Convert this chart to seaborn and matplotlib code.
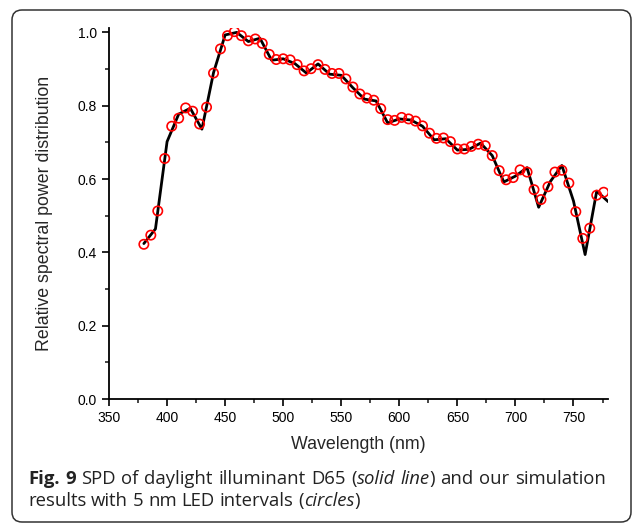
import matplotlib
matplotlib.use("Agg")
import matplotlib.pyplot as plt
from matplotlib.patches import FancyBboxPatch
from matplotlib.ticker import MultipleLocator
import pandas as pd
import seaborn as sns

# D65 reference curve (solid line), 10 nm steps, normalised to 460 nm
line_wl = [380, 390, 400, 410, 420, 430, 440, 450, 460, 470, 480, 490, 500, 510,
           520, 530, 540, 550, 560, 570, 580, 590, 600, 610, 620, 630, 640, 650,
           660, 670, 680, 690, 700, 710, 720, 730, 740, 750, 760, 770, 780]
line_val = [0.424, 0.464, 0.702, 0.777, 0.793, 0.736, 0.890, 0.993, 1.000, 0.975,
            0.984, 0.924, 0.928, 0.915, 0.889, 0.914, 0.886, 0.883, 0.849, 0.818,
            0.813, 0.753, 0.764, 0.761, 0.744, 0.707, 0.710, 0.679, 0.681, 0.698,
            0.664, 0.592, 0.608, 0.631, 0.523, 0.593, 0.637, 0.540, 0.394, 0.567,
            0.538]

# simulation results (circles)
sim_wl = [380, 386, 392, 398, 404, 410, 416, 422, 428, 434, 440, 446, 452, 458,
          464, 470, 476, 482, 488, 494, 500, 506, 512, 518, 524, 530, 536, 542,
          548, 554, 560, 566, 572, 578, 584, 590, 596, 602, 608, 614, 620, 626,
          632, 638, 644, 650, 656, 662, 668, 674, 680, 686, 692, 698, 704, 710,
          716, 722, 728, 734, 740, 746, 752, 758, 764, 770, 776]
sim_val = [0.422, 0.447, 0.513, 0.656, 0.744, 0.766, 0.794, 0.785, 0.750, 0.796,
           0.889, 0.955, 0.991, 1.002, 0.991, 0.977, 0.982, 0.970, 0.940, 0.926,
           0.928, 0.925, 0.912, 0.895, 0.901, 0.912, 0.899, 0.888, 0.888, 0.873,
           0.851, 0.832, 0.821, 0.815, 0.792, 0.762, 0.760, 0.768, 0.764, 0.758,
           0.745, 0.725, 0.711, 0.712, 0.702, 0.682, 0.682, 0.689, 0.695, 0.691,
           0.664, 0.623, 0.598, 0.604, 0.625, 0.619, 0.571, 0.544, 0.579, 0.619,
           0.624, 0.589, 0.511, 0.438, 0.466, 0.556, 0.564]

x_ticks = [350, 400, 450, 500, 550, 600, 650, 700, 750]
y_ticks = [0.0, 0.2, 0.4, 0.6, 0.8, 1.0]

sns.set_style("ticks")
plt.rcParams['font.family'] = ['Liberation Sans', 'DejaVu Sans']

line_df = pd.DataFrame({"wl": line_wl, "val": line_val})
sim_df = pd.DataFrame({"wl": sim_wl, "val": sim_val})

fig = plt.figure(figsize=(6.36, 5.26), dpi=100)
ax = fig.add_axes([0.1714, 0.2414, 0.7851, 0.7054])

sns.lineplot(data=line_df, x="wl", y="val", color="black", linewidth=2, ax=ax)
sns.scatterplot(data=sim_df, x="wl", y="val", marker="o", s=45,
                facecolor="none", edgecolor="red", linewidth=1.2, ax=ax, zorder=3)

ax.set_xlim(350, 780)
ax.set_ylim(0, 1.012)
ax.set_xticks(x_ticks)
ax.set_yticks(y_ticks)
ax.set_yticklabels([f"{v:.1f}" for v in y_ticks])
ax.xaxis.set_minor_locator(MultipleLocator(25))
ax.yaxis.set_minor_locator(MultipleLocator(0.1))
ax.tick_params(which="major", direction="out", length=5, width=1.2, labelsize=10, colors="black")
ax.tick_params(which="minor", direction="out", length=3, width=1.2)
for s in ["top", "right"]:
    ax.spines[s].set_visible(False)
for s in ["left", "bottom"]:
    ax.spines[s].set_linewidth(1.3)
    ax.spines[s].set_color("black")

ax.set_xlabel("Wavelength (nm)", fontsize=12.8, labelpad=8)
ax.set_ylabel("Relative spectral power distribution", fontsize=12.8, labelpad=18)

# rounded frame around the whole figure
frame = FancyBboxPatch((0.12, 0.04), 6.19, 5.12, boxstyle="round,pad=0,rounding_size=0.1",
                       transform=fig.dpi_scale_trans, fill=False,
                       edgecolor="#333333", linewidth=1.1)
fig.patches.append(frame)

# caption, one word at a time so bold / italic parts line up (line 1 is justified)
cap_font = ['Open Sans', 'DejaVu Sans']
cap_size = 13.3
cap_color = "#222222"
line1 = [("Fig.", "bold", "normal"), ("9", "bold", "normal"), ("SPD", "normal", "normal"),
         ("of", "normal", "normal"), ("daylight", "normal", "normal"),
         ("illuminant", "normal", "normal"), ("D65", "normal", "normal"),
         ("(", "normal", "normal", True), ("solid", "normal", "italic"),
         ("line", "normal", "italic"), (")", "normal", "normal", True),
         ("and", "normal", "normal"), ("our", "normal", "normal"),
         ("simulation", "normal", "normal")]
line2 = [("results", "normal", "normal"), ("with", "normal", "normal"),
         ("5", "normal", "normal"), ("nm", "normal", "normal"),
         ("LED", "normal", "normal"), ("intervals", "normal", "normal"),
         ("(", "normal", "normal", True), ("circles", "normal", "italic"),
         (")", "normal", "normal", True)]

renderer = fig.canvas.get_renderer()
space_px = None
for parts, ypos, right in [(line1, 1 - 484 / 526, 606), (line2, 1 - 506 / 526, None)]:
    prev = None
    gaps = []
    for part in parts:
        txt, weight, style = part[:3]
        glued = len(part) > 3
        if prev is None:
            prev = fig.text(28 / 636, ypos, txt, fontsize=cap_size, fontweight=weight,
                            fontstyle=style, family=cap_font, color=cap_color,
                            va="baseline", ha="left")
            if space_px is None:
                t = fig.text(0, 0, "a a", fontsize=cap_size, family=cap_font)
                t2 = fig.text(0, 0, "aa", fontsize=cap_size, family=cap_font)
                space_px = (t.get_window_extent(renderer).width
                            - t2.get_window_extent(renderer).width)
                t.remove()
                t2.remove()
            gaps.append((prev, txt, 0))
            continue
        # glue "(" to the next word and ")" to the previous one
        gap = 0 if glued and txt == ")" else space_px
        if gaps and gaps[-1][1] == "(":
            gap = 0
        prev = ax.annotate(txt, xy=(1, 0), xycoords=prev, xytext=(gap, 0),
                           textcoords="offset pixels", fontsize=cap_size,
                           fontweight=weight, fontstyle=style, family=cap_font,
                           color=cap_color, va="bottom", ha="left",
                           annotation_clip=False)
        gaps.append((prev, txt, gap))
    if right is not None:
        fig.canvas.draw()
        end = prev.get_window_extent(renderer).x1
        stretch = [g for g in gaps if g[2] > 0]
        extra = (right - end) / len(stretch)
        for g in stretch:
            g[0].xyann = (g[2] + extra, 0)

fig.savefig("out.png", dpi=100)
